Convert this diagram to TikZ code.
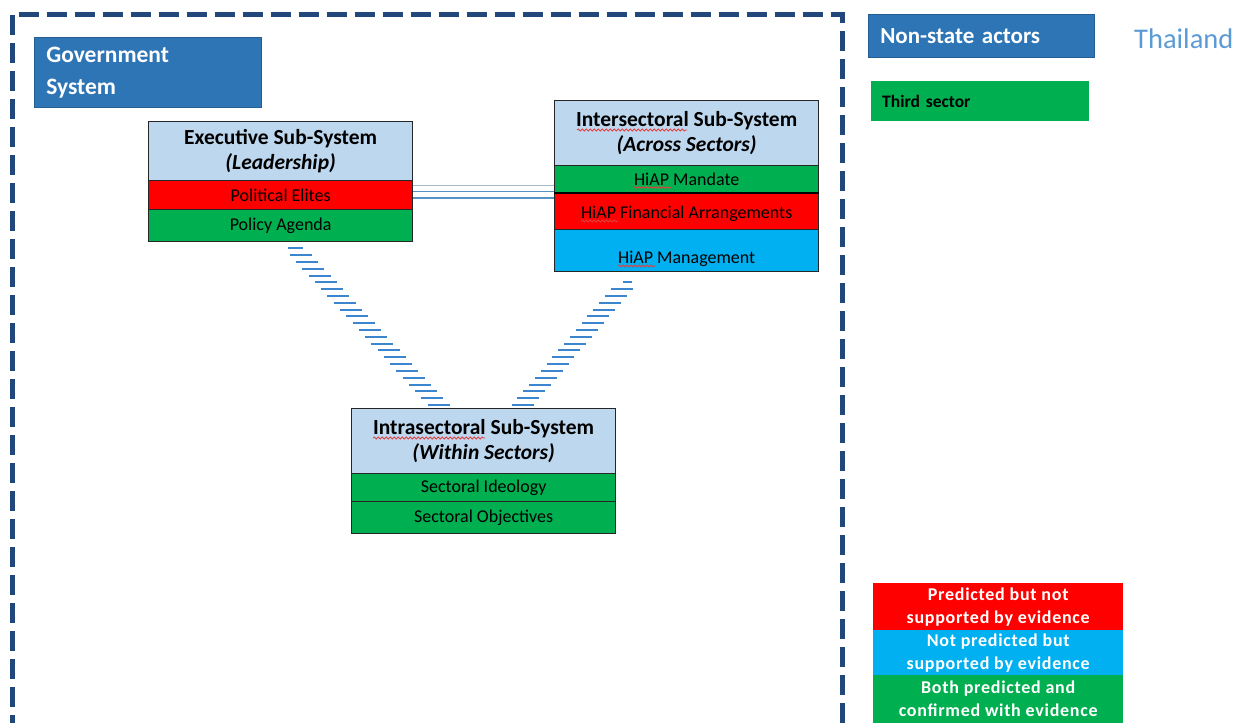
\documentclass[tikz,border=0pt]{standalone}
\usepackage{fontspec}
\setmainfont{Carlito}
\newfontfamily\legendfont[LetterSpace=4]{Carlito}
\usetikzlibrary{calc,decorations.pathmorphing}
\definecolor{framecol}{HTML}{22477A}
\definecolor{govblue}{HTML}{2E75B6}
\definecolor{headblue}{HTML}{BDD7EE}
\definecolor{myred}{HTML}{FF0000}
\definecolor{mygreen}{HTML}{00B050}
\definecolor{mycyan}{HTML}{00B0F0}
\definecolor{thaicol}{HTML}{5B9BD5}
\definecolor{hatchcol}{HTML}{3B86CE}
\definecolor{linegray}{HTML}{A9B8C8}
\definecolor{squigcol}{HTML}{E04040}
\tikzset{
  frameline/.style={draw=framecol, line width=5pt, dash pattern=on 20pt off 8pt},
  titlebox/.style={fill=govblue, draw=govblue!80!black, line width=0.6pt, anchor=north west, inner sep=0pt, text=white, font=\bfseries\fontsize{23.5}{32}\selectfont},
  subrow/.style={draw=black!85, line width=1.3pt, anchor=north west, inner sep=0pt, minimum width=264pt, minimum height=#1, font=\fontsize{18}{21}\selectfont},
  headrow/.style={subrow=#1, fill=headblue, align=center, font=\bfseries\fontsize{21.5}{25}\selectfont},
  legendbox/.style={anchor=north west, inner sep=0pt, minimum width=250pt, minimum height=#1, text=white, align=center, font=\legendfont\bfseries\fontsize{18}{23}\selectfont},
  hatchline/.style={draw=hatchcol, line width=2pt},
  dblline/.style={draw=govblue!80, line width=1.6pt},
  greyline/.style={draw=linegray, line width=1.6pt},
  squiggle/.style={draw=squigcol, line width=0.8pt, decorate, decoration={snake, amplitude=1pt, segment length=4pt}}
}
\begin{document}
\begin{tikzpicture}[x=1pt,y=-1pt]
\useasboundingbox (0,0) rectangle (1243,723);
\fill[white] (0,0) rectangle (1243,723);

% outer dashed frame
\draw[frameline] (12,735) -- (12,14) -- (842,14) -- (842,735);

% titles
\node[titlebox, minimum width=227pt, minimum height=70pt, text width=203pt, align=left, inner xsep=12pt] (gov) at (34,37) {Government\\System};
\node[titlebox, minimum width=226pt, minimum height=43pt, text width=202pt, align=left, inner xsep=12pt, font=\bfseries\fontsize{23}{26}\selectfont] (nsa) at (868,14) {Non-state actors};
\node[anchor=north west, fill=mygreen, inner sep=0pt, minimum width=218pt, minimum height=40pt, text width=196pt, inner xsep=11pt, align=left, font=\bfseries\fontsize{17.5}{20}\selectfont] (third) at (871,81) {Third sector};
\node[anchor=west, text=thaicol, inner sep=0pt, font=\fontsize{28.5}{32}\selectfont] (thai) at (1134,39) {Thailand};

% Executive sub-system
\node[headrow=59pt] (exechead) at (148,121) {Executive Sub-System\\\textit{(Leadership)}};
\node[subrow=29pt, fill=myred] (execpe) at (148,180) {Political Elites};
\node[subrow=32pt, fill=mygreen] (execpa) at (148,209) {Policy Agenda};

% Intersectoral sub-system
\node[headrow=65pt] (interhead) at (554,100) {Intersectoral Sub-System\\\textit{(Across Sectors)}};
\node[subrow=28pt, fill=mygreen] (intermand) at (554,165) {HiAP Mandate};
\node[subrow=36pt, fill=myred] (interfin) at (554,193) {\rule{0pt}{17pt}HiAP Financial Arrangements};
\node[subrow=42pt, fill=mycyan] (intermgmt) at (554,229) {\rule{0pt}{29pt}HiAP Management};
\draw[black, line width=2.6pt] (interfin.north west) -- (interfin.north east);

% Intrasectoral sub-system
\node[headrow=65pt] (intrahead) at (351,408) {Intrasectoral Sub-System\\\textit{(Within Sectors)}};
\node[subrow=28pt, fill=mygreen] (intraid) at (351,473) {Sectoral Ideology};
\node[subrow=32pt, fill=mygreen] (intraobj) at (351,501) {Sectoral Objectives};

% spell-check underlines
\draw[squiggle] (577,130) -- (687,130);
\draw[squiggle] (634,187.5) -- (672,187.5);
\draw[squiggle] (581,221) -- (618,221);
\draw[squiggle] (618,266) -- (655,266);
\draw[squiggle] (373,438) -- (485,438);

% horizontal connector executive -- intersectoral
\draw[greyline] ($(execpe.east)+(0,-9.5)$) -- ($(interfin.west |- execpe.east)+(0,-9.5)$);
\draw[dblline] ($(execpe.east)+(0,-3.5)$) -- ($(interfin.west |- execpe.east)+(0,-3.5)$);
\draw[dblline] ($(execpe.east)+(0,3)$) -- ($(interfin.west |- execpe.east)+(0,3)$);

% hatched connectors
\coordinate (la) at ($(execpa.south)+(14,6)$);
\coordinate (lb) at ($(intrahead.north)+(-45,-3)$);
\coordinate (ra) at ($(intermgmt.south)+(-59,10)$);
\coordinate (rb) at ($(intrahead.north)+(39,-3)$);
\foreach \i in {1,...,23} {
  \draw[hatchline] ($(la)!\i/23!(lb)$) +(-11,0) -- +(11,0);
}
\draw[hatchline] (la) +(-7,0) -- +(8,0);
\foreach \i in {1,...,18} {
  \draw[hatchline] ($(ra)!\i/18!(rb)$) +(-11,0) -- +(11,0);
}
\draw[hatchline] (ra) +(-5,0) -- +(4,0);

% legend
\node[legendbox=47pt, fill=myred] (legred) at (873,583) {Predicted but not\\supported by evidence};
\node[legendbox=45pt, fill=mycyan] (legblue) at (873,630) {Not predicted but\\supported by evidence};
\node[legendbox=48pt, fill=mygreen] (leggreen) at (873,675) {Both predicted and\\confirmed with evidence};
\end{tikzpicture}
\end{document}
